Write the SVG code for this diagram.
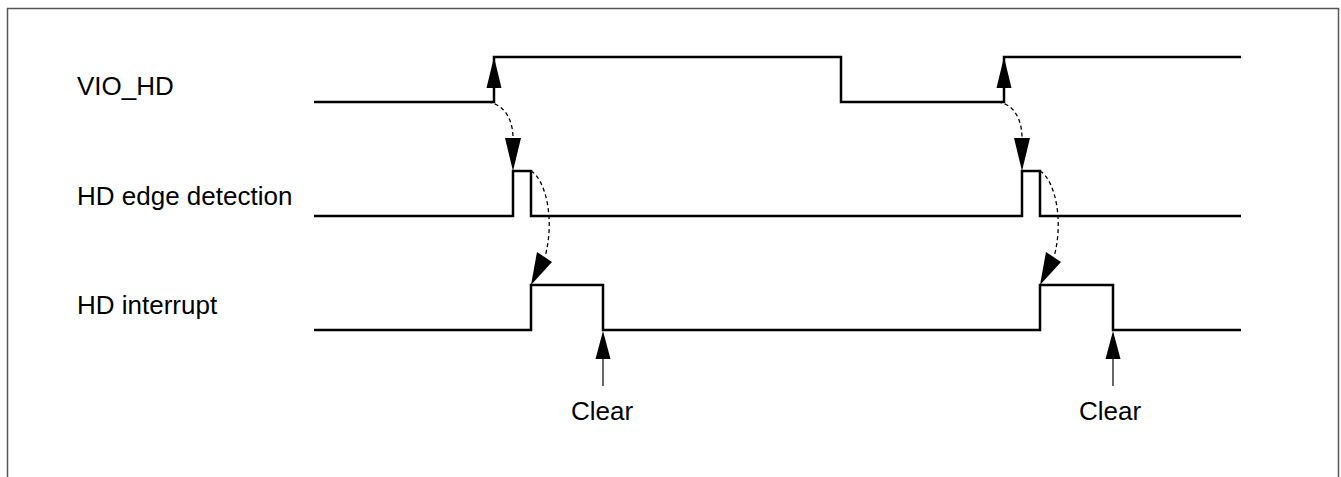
<svg xmlns="http://www.w3.org/2000/svg" width="1341" height="477" viewBox="0 0 1341 477">
<style>
.sig{fill:none;stroke:#000;stroke-width:2.5;stroke-linejoin:miter}
.dash{fill:none;stroke:#000;stroke-width:1.3;stroke-dasharray:4 3}
.thin{fill:none;stroke:#000;stroke-width:1.2}
.head{fill:#000;stroke:none}
.lbl{font-family:"Liberation Sans",Arial,sans-serif;font-size:26px;fill:#000}
</style>
<rect width="1341" height="477" fill="#fff"/>
<path d="M7.5 477 V8.5 H1338.5 V477" fill="none" stroke="#555" stroke-width="1.5"/>
<g id="vio_hd">
<text class="lbl" x="77" y="95">VIO_HD</text>
<path class="sig" d="M314 102 H494 V57 H841 V102 H1004 V57 H1241"/>
</g>
<g id="hd_edge">
<text class="lbl" x="77" y="205">HD edge detection</text>
<path class="sig" d="M314 216 H513 V171 H531 V216 H1022 V171 H1040 V216 H1241"/>
</g>
<g id="hd_int">
<text class="lbl" x="77" y="314">HD interrupt</text>
<path class="sig" d="M314 330 H531 V285 H603 V330 H1040 V285 H1113 V330 H1241"/>
</g>
<g id="clear1">
<text class="lbl" x="602" y="420" text-anchor="middle">Clear</text>
</g>
<g id="clear2">
<text class="lbl" x="1110" y="420" text-anchor="middle">Clear</text>
</g>
<g id="connectors">
<polygon class="head" points="494,57 486.5,88 501.5,88"/>
<path class="dash" d="M488 102 C503 104 513 118 513 138"/>
<polygon class="head" points="513,171 505,138 521,138"/>
<path class="dash" d="M531 171 C546 180 555 220 545 257"/>
<polygon class="head" points="531,285 537,252 552,262"/>
<line class="thin" x1="603" y1="386" x2="603" y2="355"/>
<polygon class="head" points="603,331 595.5,359 610.5,359"/>

<polygon class="head" points="1004,57 996.5,88 1011.5,88"/>
<path class="dash" d="M998 102 C1013 104 1022 118 1022 138"/>
<polygon class="head" points="1022,171 1014,138 1030,138"/>
<path class="dash" d="M1040 171 C1055 180 1064 220 1054 257"/>
<polygon class="head" points="1040,285 1046,252 1061,262"/>
<line class="thin" x1="1113" y1="386" x2="1113" y2="355"/>
<polygon class="head" points="1113,331 1105.5,359 1120.5,359"/>
</g>
</svg>
